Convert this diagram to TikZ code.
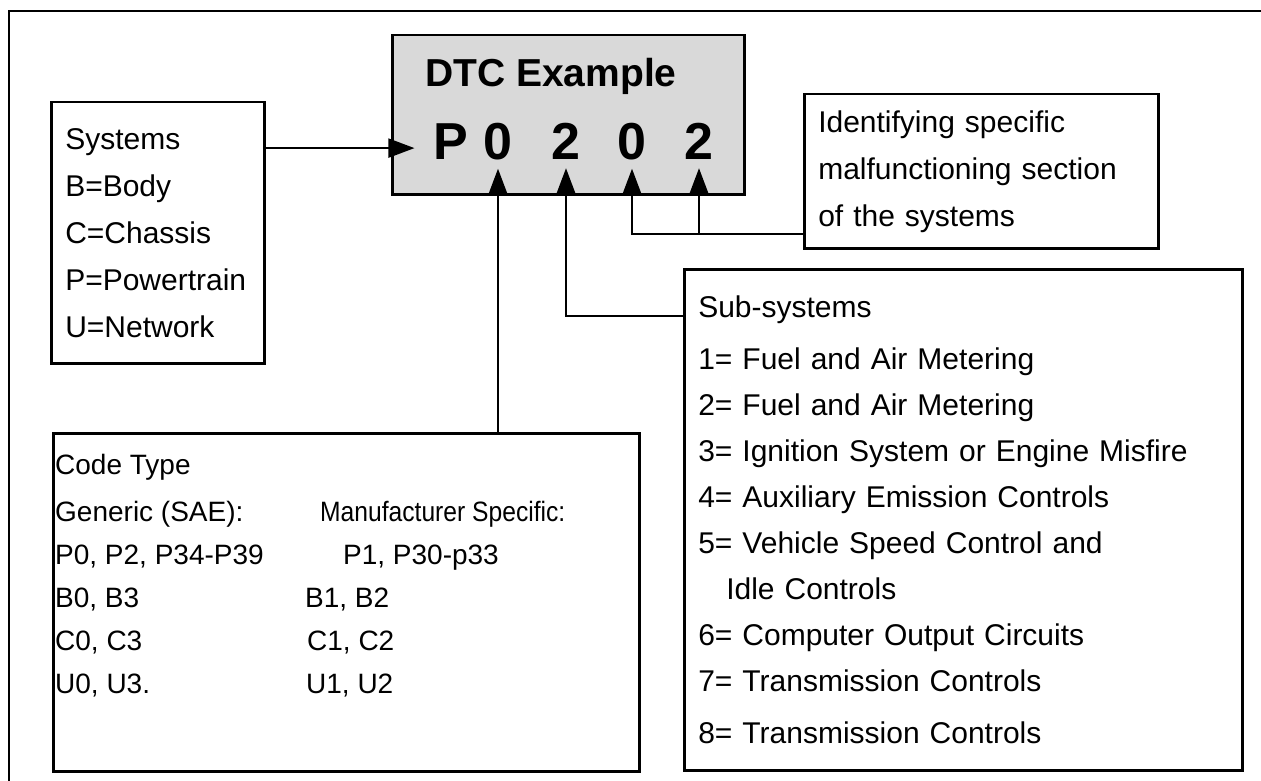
\documentclass[tikz,border=0pt]{standalone}
\usepackage{fontspec}
\setmainfont{Liberation Sans}
\usepackage{graphicx}
\usetikzlibrary{arrows.meta}

\tikzset{
  box/.style={draw, line width=2.5pt, anchor=north west, align=left, inner xsep=14pt, inner ysep=0pt},
  txt/.style={font=\fontsize{30}{46}\selectfont},
  digit/.style={font=\fontsize{52}{52}\selectfont\bfseries, anchor=base, inner xsep=0pt, inner ysep=8pt},
  link/.style={line width=2pt},
  arr/.style={link, -{Triangle[length=26pt, width=19pt]}},
}

\begin{document}
\begin{tikzpicture}[x=1pt, y=-1pt]
    \useasboundingbox (0,0) rectangle (1261,781);

    %% outer frame
    \draw[link] (9,781) -- (9,11) -- (1261,11);

    %% dtc box
    \node[box, fill=black!15, minimum width=352pt, minimum height=159pt] (dtc) at (391,34) {};
    \node[font=\fontsize{39}{39}\selectfont\bfseries, anchor=base west, inner sep=0pt] (title) at (425,87) {DTC Example};
    \node[digit, inner xsep=19pt] (P) at (451,160) {P};
    \node[digit] (d1) at (498,160) {0};
    \node[digit] (d2) at (566,160) {2};
    \node[digit] (d3) at (632,160) {0};
    \node[digit] (d4) at (699,160) {2};

    %% systems
    \node[box, txt, text width=185pt, minimum width=213pt, minimum height=261pt, font=\fontsize{30}{47}\selectfont] (sys) at (50,101)
      {Systems\\ B=Body\\ C=Chassis\\ P=Powertrain\\ U=Network};

    %% identifying
    \node[box, txt, text width=326pt, minimum width=354pt, minimum height=154pt, font=\fontsize{30}{47}\selectfont] (ident) at (803,93)
      {Identifying specific\\ malfunctioning section\\ of the systems};

    %% sub-systems
    \node[box, txt, text width=530pt, minimum width=558pt, minimum height=501pt] (sub) at (683,268)
      {Sub-systems\\[6pt]
       1= Fuel and Air Metering\\
       2= Fuel and Air Metering\\
       3= Ignition System or Engine Misfire\\
       4= Auxiliary Emission Controls\\
       5= Vehicle Speed Control and\\
       \hspace*{28pt}Idle Controls\\
       6= Computer Output Circuits\\
       7= Transmission Controls\\[6pt]
       8= Transmission Controls};

    %% code type
    \node[box, minimum width=586pt, minimum height=338pt] (code) at (52,432) {};
    \node[anchor=north west, align=left, inner sep=0pt, font=\fontsize{28}{43}\selectfont] (codelist) at ([xshift=3pt, yshift=-22pt]code.north west)
      {Code Type\\[4pt]
       \makebox[265pt][l]{Generic (SAE):}\scalebox{0.88}[1]{Manufacturer Specific:}\\
       \makebox[288pt][l]{P0, P2, P34-P39}P1, P30-p33\\
       \makebox[250pt][l]{B0, B3}B1, B2\\
       \makebox[252pt][l]{C0, C3}C1, C2\\
       \makebox[251pt][l]{U0, U3.}U1, U2};

    %% connectors
    \coordinate (Pin) at ([yshift=-6pt]P.west);
    \coordinate (subin) at ([yshift=-48pt]sub.north west);
    \coordinate (idin) at ([yshift=16pt]ident.south west);
    \draw[arr] (sys.east |- Pin) -- (Pin);
    \draw[arr] (d1.south |- code.north) -- (d1.south);
    \draw[arr] (subin) -| (d2.south);
    \draw[arr] (idin) -| (d3.south);
    \draw[arr] (idin -| d4.south) -- (d4.south);
\end{tikzpicture}
\end{document}
